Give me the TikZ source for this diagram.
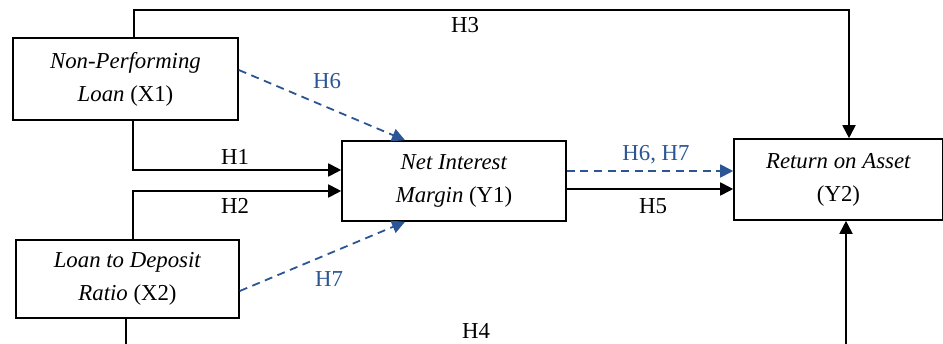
\documentclass[tikz,border=0pt]{standalone}
\usepackage{fontspec}
\setmainfont{Liberation Serif}
\usetikzlibrary{arrows.meta}
\definecolor{hblue}{HTML}{2B5594}
\begin{document}
\begin{tikzpicture}[x=0.5pt,y=-0.5pt,
  font=\fontsize{11.4}{16.5}\selectfont,
  box/.style={draw, line width=0.8pt, inner sep=0pt, align=center},
  conn/.style={line width=0.9pt, -{Triangle[length=6.5pt,width=6.5pt]}},
  dconn/.style={line width=0.9pt, hblue, dash pattern=on 4pt off 2.8pt, -{Triangle[length=6.5pt,width=6.5pt]}},
  lbl/.style={inner sep=0pt},
  blbl/.style={inner sep=0pt, text=hblue}]
\useasboundingbox (0,0) rectangle (943,343);
\clip (0,0) rectangle (943,343);
\node[box, minimum width=112.5pt, minimum height=41pt] (X1) at (125.5,79) {\textit{Non-Performing}\\\textit{Loan} (X1)};
\node[box, minimum width=111.5pt, minimum height=39pt] (X2) at (127.5,279) {\textit{Loan to Deposit}\\\textit{Ratio} (X2)};
\node[box, minimum width=112pt, minimum height=40pt] (Y1) at (454,181) {\textit{Net Interest}\\\textit{Margin} (Y1)};
\node[box, minimum width=104.5pt, minimum height=40.5pt] (Y2) at (838.5,179.5) {\textit{Return on Asset}\\(Y2)};
\coordinate (h3c) at (849,10);
\coordinate (h4c) at (846,360);
% H3
\draw[conn] ([xshift=4.25pt]X1.north) |- (h3c) -- (h3c |- Y2.north);
% H1
\draw[conn] ([xshift=3.75pt]X1.south) |- ([yshift=5.5pt]Y1.west);
% H2
\draw[conn] ([xshift=2.75pt]X2.north) |- ([yshift=-5pt]Y1.west);
% H6
\draw[dconn] ([yshift=4.5pt]X1.east) -- ([xshift=-24.5pt]Y1.north);
% H7
\draw[dconn] ([yshift=-6pt]X2.east) -- ([xshift=-24.5pt]Y1.south);
% H6,H7
\coordinate (m1) at ([yshift=5pt]Y1.east);
\draw[dconn] (m1) -- (m1 -| Y2.west);
% H5
\coordinate (m2) at ([yshift=-4pt]Y1.east);
\draw[conn] (m2) -- (m2 -| Y2.west);
% H4
\draw[conn] ([xshift=-0.75pt]X2.south) |- (h4c) -- (h4c |- Y2.south);
% labels
\node[lbl] (l3) at (465,25) {H3};
\node[lbl] (l1) at (235,157) {H1};
\node[lbl] (l2) at (235,206) {H2};
\node[blbl] (l6) at (327,81) {H6};
\node[blbl] (l7) at (329,279) {H7};
\node[blbl] (l67) at (656,155) {H6, H7};
\node[lbl] (l5) at (653,206) {H5};
\node[lbl] (l4) at (476,331) {H4};
\end{tikzpicture}
\end{document}
